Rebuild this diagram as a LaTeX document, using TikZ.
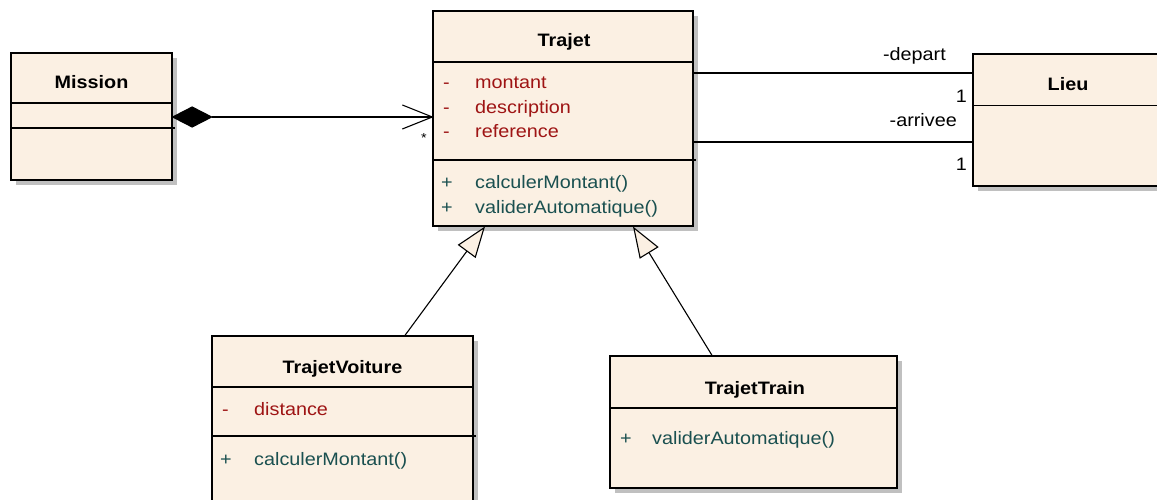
\documentclass[tikz,border=0pt]{standalone}
\usepackage{fontspec}
\setmainfont{Liberation Sans}[FakeStretch=1.1]
\usetikzlibrary{shadows,arrows.meta,calc}
\definecolor{clsfill}{HTML}{FBF0E3}
\definecolor{attrc}{HTML}{9E1414}
\definecolor{opc}{HTML}{1A5050}
\definecolor{shad}{HTML}{C0C0C0}
\begin{document}
\begin{tikzpicture}[x=1pt,y=-1pt,
  cls/.style={draw=black,line width=1.3pt,fill=clsfill,inner sep=0pt,
    drop shadow={shadow xshift=5pt,shadow yshift=-5pt,fill=shad,opacity=1}},
  divider/.style={line width=1.3pt},
  title/.style={font=\fontsize{18}{22}\selectfont\bfseries,inner sep=0pt,anchor=base},
  attr/.style={font=\fontsize{18}{22}\selectfont,text=attrc,anchor=base west,inner sep=0pt},
  op/.style={font=\fontsize{18}{22}\selectfont,text=opc,anchor=base west,inner sep=0pt},
  lbl/.style={font=\fontsize{18}{22}\selectfont,inner sep=0pt,anchor=base east},
  conn/.style={line width=1.1pt},
  gen/.style={conn,-{Triangle[open,fill=clsfill,length=31pt,width=22pt]}},
]
\useasboundingbox (0,0) rectangle (1157,500);
\clip (0,0) rectangle (1157,500);

% Mission
\node[cls,minimum width=161pt,minimum height=127pt] (mission) at (91.5,116.5) {};
\node[title] (missiont) at (91.5,89) {Mission};
\draw[divider] (11,103) -- (172,103);
\draw[divider] (11,128) -- (175,128);

% Trajet
\node[cls,minimum width=260pt,minimum height=215pt] (trajet) at (563,118.5) {};
\node[title] (trajett) at (564,47) {Trajet};
\draw[divider] (433,62) -- (693,62);
\draw[divider] (433,160) -- (696,160);
\node[attr] (a1) at (443,89) {-};     \node[attr] (a1n) at (475,89) {montant};
\node[attr] (a2) at (443,113.5) {-};  \node[attr] (a2n) at (475,113.5) {description};
\node[attr] (a3) at (443,138) {-};    \node[attr] (a3n) at (475,138) {reference};
\node[op] (o1) at (441,188.5) {+};    \node[op] (o1n) at (475,188.5) {calculerMontant()};
\node[op] (o2) at (441,213) {+};      \node[op] (o2n) at (475,213) {validerAutomatique()};

% Lieu
\node[cls,minimum width=190pt,minimum height=132pt] (lieu) at (1068,120) {};
\node[title] (lieut) at (1068,91) {Lieu};
\draw[divider] (973,105.5) -- (1163,105.5);

% TrajetVoiture
\node[cls,minimum width=261pt,minimum height=200pt] (voiture) at (342.5,436) {};
\node[title] (voituret) at (342.5,373) {TrajetVoiture};
\draw[divider] (212,387) -- (473,387);
\draw[divider] (212,436) -- (476,436);
\node[attr] (v1) at (222,415) {-};  \node[attr] (v1n) at (254,415) {distance};
\node[op] (v2) at (220,465) {+};    \node[op] (v2n) at (254,465) {calculerMontant()};

% TrajetTrain
\node[cls,minimum width=287pt,minimum height=132pt] (train) at (753.5,422) {};
\node[title] (traint) at (755,394) {TrajetTrain};
\draw[divider] (610,408) -- (897,408);
\node[op] (t1) at (620,444) {+};    \node[op] (t1n) at (652,444) {validerAutomatique()};

% Composition Mission -> Trajet
\coordinate (cA) at (mission.east |- 0,117);
\coordinate (cB) at (trajet.west |- 0,117);
\filldraw[conn] (cA) -- ++(19.5,-10) -- ++(19.5,10) -- ++(-19.5,10) -- cycle;
\draw[conn] ($(cA)+(39,0)$) -- (cB);
\draw[conn] ($(cB)+(-30,-12)$) -- (cB) -- ($(cB)+(-30,12)$);
\node[font=\fontsize{13}{15}\selectfont,inner sep=0pt] (star) at (424,138) {*};

% Associations Trajet -- Lieu
\draw[conn] (trajet.east |- 0,73) -- (lieu.west |- 0,73);
\draw[conn] (trajet.east |- 0,142) -- (lieu.west |- 0,142);
\node[lbl] (dep) at (946,61) {-depart};
\node[lbl] (dep1) at (967,102.5) {1};
\node[lbl] (arr) at (957,127) {-arrivee};
\node[lbl] (arr1) at (967,170.5) {1};

% Generalizations
\draw[gen] (voiture.north -| 405,0) -- (485,226.5);
\draw[gen] (train.north -| 712,0) -- (633,226.5);
\end{tikzpicture}
\end{document}
